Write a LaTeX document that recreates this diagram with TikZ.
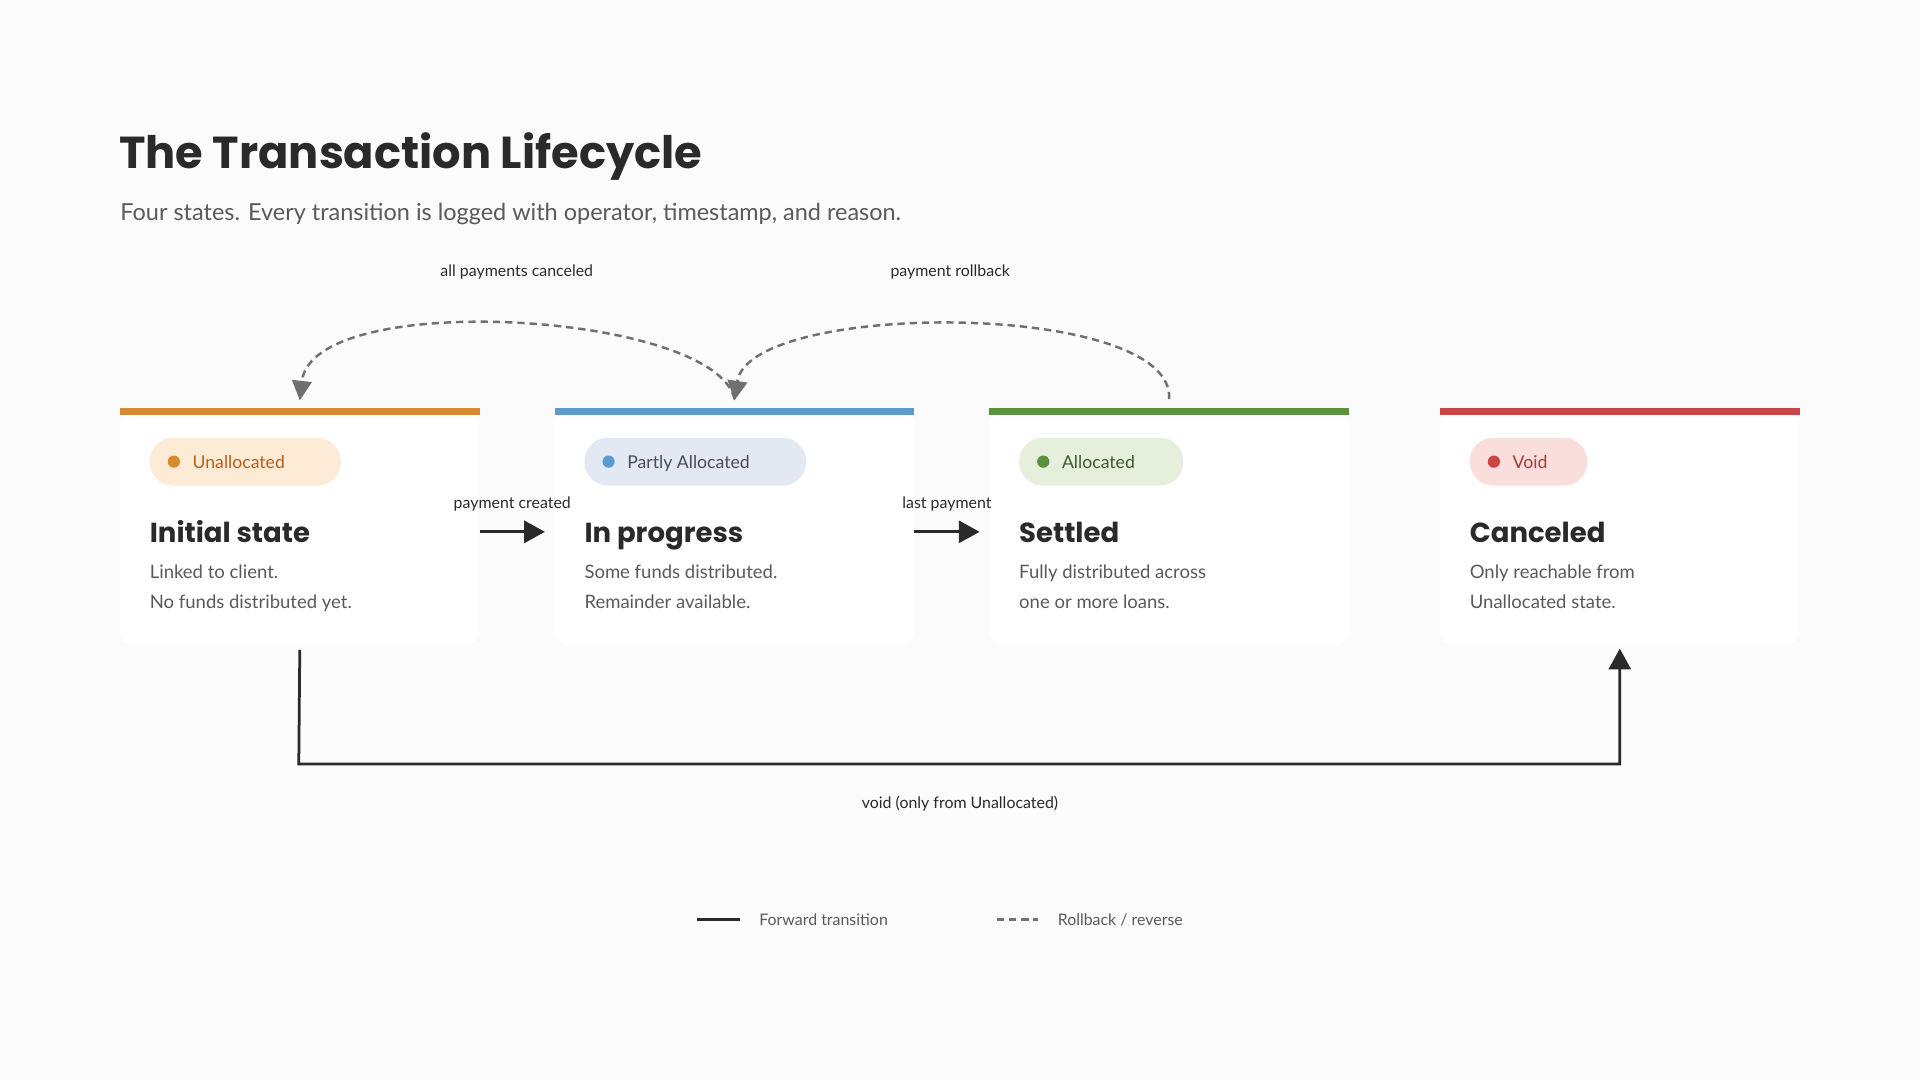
\documentclass[tikz,border=0pt]{standalone}
\usepackage{fontspec}
\setmainfont{Lato}
\newfontfamily\headfont{Poppins}
\usetikzlibrary{positioning,arrows.meta}
\definecolor{ink}{HTML}{2A2A2A}
\definecolor{muted}{HTML}{5A5A5A}
\definecolor{rollgray}{HTML}{707070}
\definecolor{cOrange}{HTML}{D98A2E}\definecolor{pOrange}{HTML}{FDEBD6}\definecolor{tOrange}{HTML}{B8601E}
\definecolor{cBlue}{HTML}{5B9BD0}\definecolor{pBlue}{HTML}{E3E9F2}\definecolor{tBlue}{HTML}{4A4A58}
\definecolor{cGreen}{HTML}{5A913C}\definecolor{pGreen}{HTML}{E6EFDC}\definecolor{tGreen}{HTML}{3F5A32}
\definecolor{cRed}{HTML}{CC4444}\definecolor{pRed}{HTML}{F9DEDC}\definecolor{tRed}{HTML}{A83A36}

\begin{document}
\begin{tikzpicture}[x=0.02cm,y=-0.02cm,
  card/.style={fill=white,rounded corners=0.2cm,minimum width=5.86cm,minimum height=3.8cm,anchor=north west,inner sep=0},
  bar/.style={line width=0.12cm},
  pill/.style={rounded corners=0.38cm,minimum height=0.78cm,anchor=west,inner sep=0},
  ptext/.style={anchor=base west,inner sep=0,font=\fontsize{8.2}{10}\selectfont},
  heading/.style={anchor=base west,inner sep=0,font=\headfont\bfseries\fontsize{12.8}{16}\selectfont,text=ink},
  body/.style={anchor=north west,align=left,inner sep=0,text=muted,font=\fontsize{8.6}{14}\selectfont},
  lbl/.style={font=\fontsize{7.4}{9}\selectfont,text=ink},
  fwd/.style={line width=0.05cm,draw=ink,-{Triangle[length=0.34cm,width=0.36cm]}},
  back/.style={line width=0.04cm,draw=rollgray,dash pattern=on 0.12cm off 0.08cm,-{Triangle[length=0.32cm,width=0.32cm]}}]
\fill[white!98.5!black] (0,0) rectangle (1568,882);
\useasboundingbox (0,0) rectangle (1568,882);

% title
\node[anchor=west,inner sep=0,text=ink,font=\headfont\bfseries\fontsize{20.8}{26}\selectfont] (title) at (97,128) {The Transaction Lifecycle};
\node[anchor=west,inner sep=0,text=muted,font=\fontsize{10.9}{12}\selectfont] (sub) at (98,175) {Four states. Every transition is logged with operator, timestamp, and reason.};

% cards
\node[card] (c1) at (98,336) {};
\node[card] (c2) at (453,336) {};
\node[card] (c3) at (808,336) {};
\node[card] (c4) at (1176,336) {};
\draw[bar,cOrange] (c1.north west) -- (c1.north east);
\draw[bar,cBlue] (c2.north west) -- (c2.north east);
\draw[bar,cGreen] (c3.north west) -- (c3.north east);
\draw[bar,cRed] (c4.north west) -- (c4.north east);

% pills
\node[pill,fill=pOrange,minimum width=3.12cm] (p1) at (122,377) {};
\node[pill,fill=pBlue,minimum width=3.62cm] (p2) at (477,377) {};
\node[pill,fill=pGreen,minimum width=2.68cm] (p3) at (832,377) {};
\node[pill,fill=pRed,minimum width=1.92cm] (p4) at (1200,377) {};
\foreach \p/\c/\t/\s in {p1/cOrange/tOrange/Unallocated,p2/cBlue/tBlue/Partly Allocated,p3/cGreen/tGreen/Allocated,p4/cRed/tRed/Void}{
  \fill[\c] ([xshift=0.4cm]\p.west) circle (0.1cm);
  \node[ptext,text=\t] at ([xshift=0.7cm,yshift=-0.11cm]\p.west) {\s};
}

% headings and text
\node[heading] (h1) at (122,443) {Initial state};
\node[heading] (h2) at (477,443) {In progress};
\node[heading] (h3) at (832,443) {Settled};
\node[heading] (h4) at (1200,443) {Canceled};
\node[body] (b1) at (122,461) {Linked to client.\\No funds distributed yet.};
\node[body] (b2) at (477,461) {Some funds distributed.\\Remainder available.};
\node[body] (b3) at (832,461) {Fully distributed across\\one or more loans.};
\node[body] (b4) at (1200,461) {Only reachable from\\Unallocated state.};

% forward transitions
\draw[fwd] ([yshift=-0.06cm]c1.east) -- ([xshift=-0.16cm,yshift=-0.06cm]c2.west) node[lbl,midway,above=0.2cm] {payment created};
\draw[fwd] ([yshift=-0.06cm]c2.east) -- ([xshift=-0.16cm,yshift=-0.06cm]c3.west) node[lbl,midway,above=0.2cm] {last payment};

% rollbacks
\draw[back] ([yshift=0.2cm]c2.north) .. controls (585,255) and (255,235) .. ([yshift=0.18cm]c1.north);
\draw[back] ([yshift=0.2cm]c3.north) .. controls (960,245) and (612,245) .. ([yshift=0.18cm]c2.north);
\node[lbl] (r1) at (422,222) {all payments canceled};
\node[lbl] (r2) at (776,222) {payment rollback};

% void
\coordinate (vd) at (244,624);
\draw[fwd,line width=0.045cm] ([yshift=-0.08cm]c1.south) -- (vd) -| ([yshift=-0.06cm]c4.south);
\node[lbl] (vl) at (784,656) {void (only from Unallocated)};

% legend
\coordinate (lf) at (569,751);
\coordinate (lr) at (814,751);
\draw[line width=0.05cm,ink] (lf) -- ++(35,0) node[lbl,right=0.18cm,text=muted] {Forward transition};
\draw[line width=0.04cm,rollgray,dash pattern=on 0.12cm off 0.08cm] (lr) -- ++(34,0) node[lbl,right=0.18cm,text=muted] {Rollback / reverse};
\end{tikzpicture}
\end{document}
